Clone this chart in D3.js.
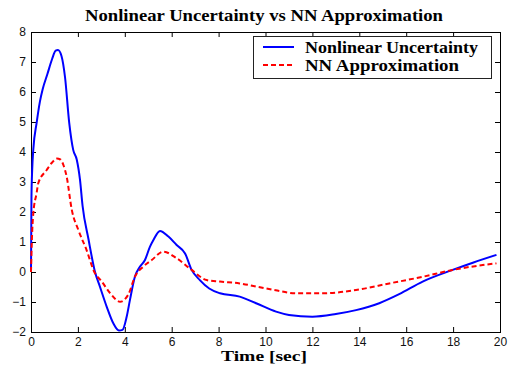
<!DOCTYPE html>
<html>
<head>
<meta charset="utf-8">
<script src="https://cdn.jsdelivr.net/npm/d3@7"></script>
<style>
    body { margin: 0; background: #fff; }
    .tick text { font-family: "Liberation Sans", Arial, sans-serif; font-size: 12px; fill: #111; }
    .tick line { stroke: #000; }
</style>
</head>
<body>
<div id="chart"></div>
<script>
// data
const seriesNames = ['Nonlinear Uncertainty', 'NN Approximation'];

const uncTime = [0, 0.02, 0.05, 0.1, 0.24, 0.38, 0.5, 0.7, 0.9, 1.05, 1.15, 1.3, 1.45, 1.63, 1.8, 1.95,
    2.09, 2.2, 2.45, 2.73, 2.94, 3.23, 3.51, 3.75, 3.9, 4.08, 4.22, 4.43, 4.65, 4.86, 5.07, 5.22, 5.5,
    5.86, 6.21, 6.57, 6.85, 7.2, 7.6, 8.06, 8.9, 9.6, 10.45, 11.0, 12.0, 13.0, 13.86, 14.85, 15.7,
    16.7, 17.98, 18.84, 19.85];
const uncValue = [0, 2.5, 3.4, 4.1, 4.97, 5.68, 6.1, 6.6, 7.1, 7.38, 7.4, 7.2, 6.5, 4.97, 4.07, 3.75,
    3.07, 2.2, 1.1, 0.0, -0.49, -1.16, -1.71, -1.95, -1.93, -1.49, -0.93, -0.16, 0.18, 0.4, 0.84, 1.07, 1.37,
    1.18, 0.9, 0.62, 0.07, -0.27, -0.55, -0.71, -0.82, -1.04, -1.32, -1.43, -1.49, -1.4, -1.27, -1.04, -0.74,
    -0.32, 0.07, 0.31, 0.57];

const nnTime = [0, 0.03, 0.1, 0.24, 0.31, 0.67, 0.9, 1.1, 1.25, 1.38, 1.52, 1.74, 2.02, 2.37, 2.7, 3.0,
    3.37, 3.8, 4.15, 4.43, 4.79, 5.15, 5.64, 6.21, 6.85, 7.49, 8.06, 8.9, 9.7, 10.5, 11.3, 12.44, 13.86,
    15.28, 16.7, 17.98, 19.85];
const nnValue = [0, 0.9, 1.97, 2.63, 2.96, 3.4, 3.65, 3.78, 3.75, 3.57, 3.18, 2.07, 1.4, 0.73, 0.0, -0.3,
    -0.7, -0.99, -0.75, -0.16, 0.18, 0.4, 0.68, 0.46, 0.07, -0.27, -0.32, -0.38, -0.5, -0.62, -0.71, -0.71, -0.6,
    -0.38, -0.16, 0.07, 0.29];

const xTicks = [0, 2, 4, 6, 8, 10, 12, 14, 16, 18, 20];
const yTicks = [-2, -1, 0, 1, 2, 3, 4, 5, 6, 7, 8];

// define width, height and margin
const width = 516, height = 369;
const margin = { top: 32, right: 16, bottom: 37, left: 31 };
const w = width - margin.left - margin.right;
const h = height - margin.top - margin.bottom;
const serif = '"Liberation Serif", "Times New Roman", serif';

const svg = d3.select('#chart').append('svg')
    .attr('width', width)
    .attr('height', height);

const plot = svg.append('g')
    .attr('transform', `translate(${margin.left},${margin.top})`);

const x = d3.scaleLinear().domain([0, 20]).range([0, w]);
const y = d3.scaleLinear().domain([-2, 8]).range([h, 0]);

// axes, ticks point inward like matlab
plot.append('g')
    .attr('transform', `translate(0,${h})`)
    .call(d3.axisBottom(x).tickValues(xTicks).tickSize(-5).tickSizeOuter(0).tickPadding(5))
    .call(g => g.select('.domain').remove());

plot.append('g')
    .call(d3.axisLeft(y).tickValues(yTicks).tickSize(-5).tickSizeOuter(0).tickPadding(5))
    .call(g => g.select('.domain').remove());

plot.append('g')
    .call(d3.axisTop(x).tickValues(xTicks).tickSize(-5).tickSizeOuter(0).tickFormat(''))
    .call(g => g.select('.domain').remove());

plot.append('g')
    .attr('transform', `translate(${w},0)`)
    .call(d3.axisRight(y).tickValues(yTicks).tickSize(-5).tickSizeOuter(0).tickFormat(''))
    .call(g => g.select('.domain').remove());

// box around the plot
plot.append('rect')
    .attr('width', w)
    .attr('height', h)
    .attr('fill', 'none')
    .attr('stroke', '#000')
    .attr('shape-rendering', 'crispEdges');

const line = d3.line()
    .x(d => x(d[0]))
    .y(d => y(d[1]))
    .curve(d3.curveMonotoneX);

plot.append('path')
    .datum(d3.zip(uncTime, uncValue))
    .attr('d', line)
    .attr('fill', 'none')
    .attr('stroke', '#0000ff')
    .attr('stroke-width', 2);

plot.append('path')
    .datum(d3.zip(nnTime, nnValue))
    .attr('d', line)
    .attr('fill', 'none')
    .attr('stroke', '#ff0000')
    .attr('stroke-width', 2)
    .attr('stroke-dasharray', '5,3');

// title and x label
svg.append('text')
    .attr('x', 264)
    .attr('y', 21)
    .attr('text-anchor', 'middle')
    .attr('font-family', serif)
    .attr('font-weight', 'bold')
    .attr('font-size', 17)
    .attr('textLength', 358)
    .attr('lengthAdjust', 'spacingAndGlyphs')
    .text('Nonlinear Uncertainty vs NN Approximation');

svg.append('text')
    .attr('x', 264)
    .attr('y', 361)
    .attr('text-anchor', 'middle')
    .attr('font-family', serif)
    .attr('font-weight', 'bold')
    .attr('font-size', 14)
    .attr('textLength', 86)
    .attr('lengthAdjust', 'spacingAndGlyphs')
    .text('Time [sec]');

// adding the legend
const legend = svg.append('g');
legend.append('rect')
    .attr('x', 253.5)
    .attr('y', 36.5)
    .attr('width', 238)
    .attr('height', 42)
    .attr('fill', '#fff')
    .attr('stroke', '#222');

const legendRows = [
    { name: seriesNames[0], color: '#0000ff', dash: null, y: 47, len: 173 },
    { name: seriesNames[1], color: '#ff0000', dash: '5,3', y: 65, len: 154 }
];

legendRows.forEach(r => {
    legend.append('line')
        .attr('x1', 263).attr('x2', 294)
        .attr('y1', r.y).attr('y2', r.y)
        .attr('stroke', r.color)
        .attr('stroke-width', 2)
        .attr('stroke-dasharray', r.dash);
    legend.append('text')
        .attr('x', 305)
        .attr('y', r.y + 6)
        .attr('font-family', serif)
        .attr('font-weight', 'bold')
        .attr('font-size', 17)
        .attr('textLength', r.len)
        .attr('lengthAdjust', 'spacingAndGlyphs')
        .text(r.name);
});
</script>
</body>
</html>
